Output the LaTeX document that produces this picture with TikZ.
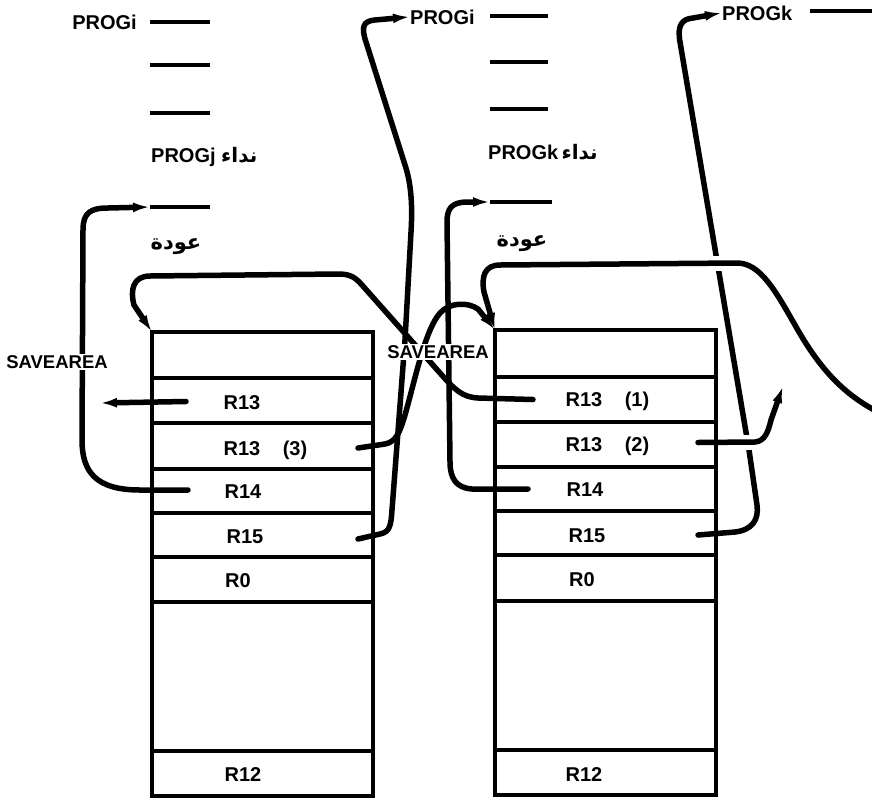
\documentclass[tikz,border=0pt]{standalone}
\usepackage{fontspec}
\setmainfont{Liberation Sans}
\newfontfamily\arabicfont[Script=Arabic]{DejaVu Sans}
\TeXXeTstate=1
\usetikzlibrary{arrows.meta,calc}
\newcommand{\artxt}[1]{{\arabicfont\beginR #1\endR}}
\begin{document}
\begin{tikzpicture}[x=1pt,y=-1pt,
  cell/.style={draw,line width=3.8pt,anchor=north west,minimum width=221pt,inner sep=0pt,outer sep=0pt},
  lbl/.style={font=\fontsize{20}{24}\selectfont\bfseries,inner sep=0pt,anchor=base},
  arlbl/.style={font=\fontsize{21}{24}\selectfont\bfseries,inner sep=0pt},
  sav/.style={font=\fontsize{18.5}{22}\selectfont\bfseries,fill=white,inner sep=1.5pt},
  bar/.style={fill=black,minimum width=60pt,minimum height=4.5pt,inner sep=0pt,outer sep=0pt},
  conn/.style={line width=5.5pt,line cap=round,line join=round},
  tip/.style={-{Latex[length=17pt,width=10pt]}},
  gapw/.style={draw=white,line width=15pt}
]
\useasboundingbox (0,0) rectangle (872,801);
% left save area
\node[cell,minimum height=46pt] (L1) at (152,332) {};
\node[cell,minimum height=45pt] (L2) at (152,378) {};
\node[cell,minimum height=46pt] (L3) at (152,423) {};
\node[cell,minimum height=44pt] (L4) at (152,469) {};
\node[cell,minimum height=44pt] (L5) at (152,513) {};
\node[cell,minimum height=45pt] (L6) at (152,557) {};
\node[cell,minimum height=149pt] (L7) at (152,602) {};
\node[cell,minimum height=45pt] (L8) at (152,751) {};
% right save area
\node[cell,minimum height=47pt] (K1) at (495,330) {};
\node[cell,minimum height=45pt] (K2) at (495,377) {};
\node[cell,minimum height=45pt] (K3) at (495,422) {};
\node[cell,minimum height=44pt] (K4) at (495,467) {};
\node[cell,minimum height=44pt] (K5) at (495,511) {};
\node[cell,minimum height=46pt] (K6) at (495,555) {};
\node[cell,minimum height=149pt] (K7) at (495,601) {};
\node[cell,minimum height=45pt] (K8) at (495,750) {};
% cell labels
\node[lbl] (tL2) at (242,409) {R13};
\node[lbl] (tL3) at (242,455) {R13};
\node[lbl] (nL3) at (295,455) {(3)};
\node[lbl] (tL4) at (243,498) {R14};
\node[lbl] (tL5) at (245,543) {R15};
\node[lbl] (tL6) at (238,587) {R0};
\node[lbl] (tL8) at (243,781) {R12};
\node[lbl] (tK2) at (584,406) {R13};
\node[lbl] (nK2) at (637,406) {(1)};
\node[lbl] (tK3) at (584,451) {R13};
\node[lbl] (nK3) at (637,451) {(2)};
\node[lbl] (tK4) at (585,496) {R14};
\node[lbl] (tK5) at (587,542) {R15};
\node[lbl] (tK6) at (582,586) {R0};
\node[lbl] (tK8) at (584,781) {R12};
% left program
\node[lbl,anchor=base east] (pi1) at (137,29) {PROGi};
\node[bar] (d1) at (180,22) {};
\node[bar] (d2) at (180,65) {};
\node[bar] (d3) at (180,113) {};
\node[lbl,anchor=base west] (cj) at (151,162) {PROGj \artxt{نداء}};
\node[bar] (d4) at (180,207) {};
\node[arlbl] (rj) at (176,247) {\artxt{عودة}};
% middle program
\node[lbl,anchor=base west] (pi2) at (410,24) {PROGi};
\node[bar,minimum width=58pt] (e1) at (519,16) {};
\node[bar,minimum width=58pt] (e2) at (519,62) {};
\node[bar,minimum width=58pt] (e3) at (519,109) {};
\node[lbl,anchor=base west] (ck) at (488,159) {PROGk\,\artxt{نداء}};
\node[bar,minimum width=62pt] (e4) at (521,202) {};
\node[arlbl] (rk) at (522,244) {\artxt{عودة}};
% right program
\node[lbl,anchor=base west] (pk) at (722,20) {PROGk};
\node[bar,minimum width=64pt] (f1) at (842,11) {};
% free ends
\coordinate (bEnd) at (100,403);
\coordinate (dEnd) at (878,412);
\coordinate (iEnd) at (783,386);
% connectors
\draw[conn,tip] ($(L4.west)+(36,-1)$) -- (140,490) .. controls (96,490) and (82,472) .. (82,440) -- (83,230) .. controls (83,213) and (90,208) .. (108,208) -- (d4.west);
\draw[conn,tip] ($(L2.west)+(34,1)$) -- (bEnd);
\draw[conn,tip] ($(K2.west)+(38,0)$) -- (478,398) .. controls (462,397) and (455,390) .. (440,373) -- (362,285) .. controls (355,277) and (350,274) .. (338,274) -- (150,276) .. controls (133,276) and (130,290) .. (134,305) -- (L1.north west);
\draw[conn,tip] ($(L3.east)+(-15,2)$) -- (385,444) .. controls (396,442) and (400,432) .. (405,415) .. controls (415,380) and (425,330) .. (440,313) .. controls (450,302) and (468,302) .. (478,309) -- (K1.north west);
\draw[conn,tip] ($(L5.east)+(-15,4)$) -- (380,534) .. controls (390,532) and (391,525) .. (392,510) -- (405,340) -- (411,232) .. controls (413,200) and (410,180) .. (405,165) -- (366,42) .. controls (361,27) and (363,21) .. (375,20) -- (pi2.west);
\draw[conn,tip] ($(K4.west)+(33,0)$) -- (472,489) .. controls (456,488) and (450,478) .. (450,462) -- (447,222) .. controls (447,208) and (452,203) .. (465,202) -- (e4.west);
\draw[conn,tip] ($(K5.east)+(-18,2)$) -- (735,532) .. controls (752,530) and (759,520) .. (757,505) -- (749,450) -- (680,42) .. controls (677,25) and (682,19) .. (693,18) -- (pk.west);
\path[gapw] (708,263) -- (727,263);
\draw[conn,tip] (dEnd) .. controls (845,395) and (820,370) .. (795,325) .. controls (775,290) and (760,263) .. (737,263) -- (500,265) .. controls (485,265) and (481,276) .. (484,292) -- (K1.north west);
\path[gapw] (739,442) -- (757,442);
\draw[conn,tip] ($(K3.east)+(-18,-2)$) -- (755,442) .. controls (765,441) and (768,432) .. (771,420) -- (iEnd);
% labels over lines
\node[sav] (s1) at (57,362) {SAVEAREA};
\node[sav] (s2) at (438,352) {SAVEAREA};
\end{tikzpicture}
\end{document}
